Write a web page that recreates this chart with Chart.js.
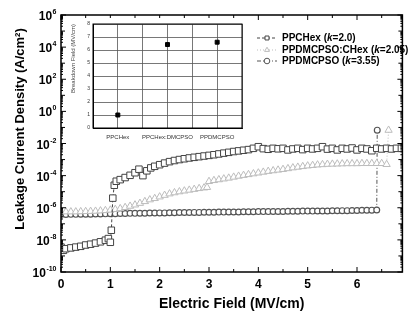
<!DOCTYPE html>
<html>
<head>
<meta charset="utf-8">
<script src="https://cdn.jsdelivr.net/npm/chart.js@4"></script>
<style>
  html, body { margin: 0; padding: 0; background: #fff; }
  #wrap { position: relative; width: 408px; height: 313px; overflow: hidden; }
  #main { position: absolute; left: 0; top: 0; }
  #inset { position: absolute; left: 66px; top: 18px; background: #fff; }
</style>
</head>
<body>
<div id="wrap">
  <canvas id="main" width="408" height="313"></canvas>
  <canvas id="inset" width="182" height="126"></canvas>
</div>
<script>
// ---- main chart data (field in MV/cm, current density stored as log10 A/cm2) ----
const ppchexField = [0, 0.05, 0.1, 0.2, 0.3, 0.4, 0.5, 0.6, 0.7, 0.8, 0.9, 0.96, 1.0, 1.02, 1.05, 1.08, 1.12, 1.2, 1.3, 1.4, 1.5, 1.58, 1.66, 1.74, 1.82, 1.9,
  2.0, 2.1, 2.2, 2.3, 2.4, 2.5, 2.6, 2.7, 2.8, 2.9, 3.0, 3.1, 3.2, 3.3, 3.4, 3.5, 3.6, 3.7, 3.8, 3.9,
  4.0, 4.1, 4.2, 4.3, 4.4, 4.5, 4.6, 4.7, 4.8, 4.9, 5.0, 5.1, 5.2, 5.3, 5.4, 5.5, 5.6, 5.7, 5.8, 5.9,
  6.0, 6.1, 6.2, 6.3, 6.4, 6.5, 6.6, 6.7, 6.8, 6.9];
const ppchexLog = [-8.45, -8.65, -8.55, -8.5, -8.45, -8.4, -8.32, -8.27, -8.2, -8.12, -8.02, -7.92, -8.15, -7.4, -5.4, -4.6, -4.35, -4.25, -4.12, -3.98, -3.82, -3.6, -4.0, -3.7, -3.52, -3.42,
  -3.32, -3.22, -3.13, -3.06, -3.0, -2.95, -2.9, -2.86, -2.82, -2.78, -2.74, -2.7, -2.65, -2.6, -2.55, -2.5, -2.46, -2.42, -2.38, -2.3,
  -2.2, -2.32, -2.36, -2.3, -2.33, -2.3, -2.4, -2.34, -2.3, -2.38, -2.3, -2.34, -2.3, -2.2, -2.35, -2.3, -2.4, -2.3, -2.34, -2.28,
  -2.4, -2.3, -2.34, -2.45, -2.3, -2.34, -2.3, -2.34, -2.3, -2.3];

const chexField = [0, 0.1, 0.2, 0.3, 0.4, 0.5, 0.6, 0.7, 0.8, 0.9, 1.0, 1.1, 1.2, 1.3, 1.4, 1.5, 1.6, 1.7, 1.8, 1.9,
  2.0, 2.1, 2.2, 2.3, 2.4, 2.5, 2.6, 2.7, 2.8, 2.9, 2.96, 3.0, 3.1, 3.2, 3.3, 3.4, 3.5, 3.6, 3.7, 3.8, 3.9,
  4.0, 4.1, 4.2, 4.3, 4.4, 4.5, 4.6, 4.7, 4.8, 4.9, 5.0, 5.1, 5.2, 5.3, 5.4, 5.5, 5.6, 5.7, 5.8, 5.9,
  6.0, 6.1, 6.2, 6.3, 6.4, 6.5, 6.6, 6.64];
const chexLog = [-6.25, -6.25, -6.25, -6.25, -6.24, -6.23, -6.22, -6.21, -6.19, -6.17, -6.14, -6.1, -6.05, -5.98, -5.9, -5.82, -5.72, -5.61, -5.5, -5.42,
  -5.32, -5.22, -5.13, -5.06, -5.0, -4.95, -4.9, -4.85, -4.8, -4.76, -4.73, -4.36, -4.3, -4.25, -4.2, -4.15, -4.09, -4.03, -3.98, -3.93, -3.88,
  -3.83, -3.78, -3.73, -3.69, -3.65, -3.61, -3.56, -3.51, -3.47, -3.43, -3.39, -3.36, -3.33, -3.31, -3.29, -3.28, -3.27, -3.26, -3.25, -3.25,
  -3.25, -3.24, -3.24, -3.24, -3.24, -3.24, -3.3, -1.17];

const dmcpsoField = [0, 0.1, 0.2, 0.3, 0.4, 0.5, 0.6, 0.7, 0.8, 0.9, 1.0, 1.1, 1.2, 1.3, 1.4, 1.5, 1.6, 1.7, 1.8, 1.9,
  2.0, 2.1, 2.2, 2.3, 2.4, 2.5, 2.6, 2.7, 2.8, 2.9, 3.0, 3.1, 3.2, 3.3, 3.4, 3.5, 3.6, 3.7, 3.8, 3.9,
  4.0, 4.1, 4.2, 4.3, 4.4, 4.5, 4.6, 4.7, 4.8, 4.9, 5.0, 5.1, 5.2, 5.3, 5.4, 5.5, 5.6, 5.7, 5.8, 5.9,
  6.0, 6.1, 6.2, 6.3, 6.4, 6.41];
const dmcpsoLog = [-6.42, -6.42, -6.41, -6.41, -6.4, -6.4, -6.4, -6.39, -6.39, -6.38, -6.37, -6.37, -6.36, -6.36, -6.35, -6.35, -6.34, -6.34, -6.33, -6.33,
  -6.32, -6.32, -6.31, -6.31, -6.3, -6.3, -6.3, -6.29, -6.29, -6.28, -6.28, -6.28, -6.27, -6.27, -6.26, -6.26, -6.26, -6.25, -6.25, -6.25,
  -6.24, -6.24, -6.24, -6.23, -6.23, -6.23, -6.22, -6.22, -6.22, -6.21, -6.21, -6.21, -6.2, -6.2, -6.2, -6.19, -6.19, -6.18, -6.18, -6.17,
  -6.17, -6.16, -6.16, -6.15, -6.14, -1.17];

const seriesNames = ['PPCHex', 'PPDMCPSO:CHex', 'PPDMCPSO'];
const seriesK = ['2.0', '2.05', '3.55'];
const yTickExponents = [6, 4, 2, 0, -2, -4, -6, -8, -10];
const xTickValues = [0, 1, 2, 3, 4, 5, 6];

// ---- inset data ----
const insetNames = ['PPCHex', 'PPCHex:DMCPSO', 'PPDMCPSO'];
const insetPos = [1, 2, 3];
const breakdownField = [1.0, 6.42, 6.6];

const FONT = '"Liberation Sans", Arial, sans-serif';

function toPoints(xs, logs) {
  return xs.map((x, i) => ({ x: x, y: Math.pow(10, logs[i]) }));
}

// frame, inward ticks, y labels, y title, legend
const decorPlugin = {
  id: 'decor',
  afterDraw(chart) {
    const ctx = chart.ctx;
    const a = chart.chartArea;
    const xs = chart.scales.x;
    const ys = chart.scales.y;
    ctx.save();
    ctx.strokeStyle = '#000';
    ctx.lineWidth = 1.5;
    ctx.strokeRect(a.left, a.top, a.right - a.left, a.bottom - a.top);

    ctx.lineWidth = 1;
    ctx.beginPath();
    // x ticks (major on integers, minor on halves)
    for (let v = 0; v <= 7; v += 0.5) {
      const px = xs.getPixelForValue(v);
      if (px > a.right) break;
      const len = Number.isInteger(v) ? 5 : 3;
      ctx.moveTo(px, a.bottom); ctx.lineTo(px, a.bottom - len);
      ctx.moveTo(px, a.top); ctx.lineTo(px, a.top + len);
    }
    // y ticks per decade plus minor log ticks
    for (let e = -10; e <= 6; e++) {
      const py = ys.getPixelForValue(Math.pow(10, e));
      const len = e % 2 === 0 ? 5 : 4;
      ctx.moveTo(a.left, py); ctx.lineTo(a.left + len, py);
      ctx.moveTo(a.right, py); ctx.lineTo(a.right - len, py);
      if (e < 6) {
        for (let m = 2; m <= 9; m++) {
          const pm = ys.getPixelForValue(m * Math.pow(10, e));
          ctx.moveTo(a.left, pm); ctx.lineTo(a.left + 2, pm);
          ctx.moveTo(a.right, pm); ctx.lineTo(a.right - 2, pm);
        }
      }
    }
    ctx.stroke();

    // y tick labels 10^n
    ctx.fillStyle = '#000';
    ctx.textBaseline = 'alphabetic';
    yTickExponents.forEach(e => {
      const py = ys.getPixelForValue(Math.pow(10, e));
      ctx.font = 'bold 12px ' + FONT;
      const wBase = ctx.measureText('10').width;
      ctx.font = 'bold 7px ' + FONT;
      const expText = String(e);
      const wExp = ctx.measureText(expText).width;
      const x0 = 56 - wBase - wExp;
      ctx.font = 'bold 12px ' + FONT;
      ctx.fillText('10', x0, py + 5);
      ctx.font = 'bold 7px ' + FONT;
      ctx.fillText(expText, x0 + wBase + 0.5, py - 1);
    });

    // y axis title
    ctx.save();
    ctx.translate(20, 129);
    ctx.rotate(-Math.PI / 2);
    ctx.font = 'bold 13px ' + FONT;
    ctx.textAlign = 'center';
    ctx.textBaseline = 'middle';
    ctx.fillText('Leakage Current Density (A/cm\u00B2)', 0, 0);
    ctx.restore();

    // legend
    const rows = [38, 50, 61];
    chart.data.datasets.forEach((ds, i) => {
      const y = rows[i];
      ctx.save();
      ctx.strokeStyle = ds.borderColor;
      ctx.lineWidth = 1;
      ctx.setLineDash(ds.borderDash || []);
      ctx.beginPath();
      ctx.moveTo(257, y); ctx.lineTo(277, y);
      ctx.stroke();
      ctx.setLineDash([]);
      ctx.fillStyle = '#fff';
      ctx.strokeStyle = ds.pointBorderColor;
      ctx.lineWidth = 1;
      Chart.helpers.drawPoint(ctx, { pointStyle: ds.pointStyle, radius: 2.8, borderWidth: 1, rotation: 0 }, 267, y);
      ctx.restore();

      let x = 282;
      ctx.fillStyle = '#000';
      ctx.textBaseline = 'middle';
      const parts = [
        [seriesNames[i] + ' (', 'bold 10px '],
        ['k', 'italic bold 10px '],
        ['=' + seriesK[i] + ')', 'bold 10px ']
      ];
      parts.forEach(p => {
        ctx.font = p[1] + FONT;
        ctx.fillText(p[0], x, y);
        x += ctx.measureText(p[0]).width;
      });
    });
    ctx.restore();
  }
};

new Chart(document.getElementById('main').getContext('2d'), {
  type: 'scatter',
  data: {
    datasets: [
      {
        label: seriesNames[0],
        data: toPoints(ppchexField, ppchexLog),
        showLine: true,
        borderColor: '#444',
        borderWidth: 1,
        borderDash: [3, 2],
        pointStyle: 'rect',
        pointRadius: 4.6,
        pointBorderWidth: 1,
        pointBorderColor: '#444',
        pointBackgroundColor: '#fff'
      },
      {
        label: seriesNames[1],
        data: toPoints(chexField, chexLog),
        showLine: true,
        borderColor: '#bdbdbd',
        borderWidth: 1,
        borderDash: [1, 2],
        pointStyle: 'triangle',
        pointRadius: 4.2,
        pointBorderWidth: 1,
        pointBorderColor: '#bcbcbc',
        pointBackgroundColor: '#fff'
      },
      {
        label: seriesNames[2],
        data: toPoints(dmcpsoField, dmcpsoLog),
        showLine: true,
        borderColor: '#555',
        borderWidth: 1,
        borderDash: [4, 2, 1, 2],
        pointStyle: 'circle',
        pointRadius: 2.9,
        pointBorderWidth: 1.2,
        pointBorderColor: '#555',
        pointBackgroundColor: '#fff'
      }
    ]
  },
  options: {
    responsive: false,
    animation: false,
    devicePixelRatio: 1,
    layout: { padding: { top: 15, right: 2, left: 0, bottom: 0 } },
    plugins: { legend: { display: false }, tooltip: { enabled: false } },
    scales: {
      x: {
        type: 'linear',
        min: 0,
        max: 6.92,
        afterFit(scale) { scale.height = 41; },
        afterBuildTicks(scale) {
          scale.ticks = xTickValues.map(v => ({ value: v }));
        },
        grid: { display: false, drawTicks: false },
        border: { display: false },
        ticks: {
          padding: 5,
          color: '#000',
          font: { family: FONT, size: 12, weight: 'bold' },
          maxRotation: 0
        },
        title: {
          display: true,
          text: 'Electric Field (MV/cm)',
          color: '#000',
          font: { family: FONT, size: 14, weight: 'bold' },
          padding: { top: 0, bottom: 0 }
        }
      },
      y: {
        type: 'logarithmic',
        min: 1e-10,
        max: 1e6,
        afterFit(scale) { scale.width = 61; },
        grid: { display: false, drawTicks: false },
        border: { display: false },
        ticks: { display: false }
      }
    }
  },
  plugins: [decorPlugin]
});

// ---- inset chart ----
new Chart(document.getElementById('inset').getContext('2d'), {
  type: 'scatter',
  data: {
    datasets: [{
      data: insetPos.map((p, i) => ({ x: p, y: breakdownField[i] })),
      pointStyle: 'rect',
      pointRadius: 2.8,
      pointBackgroundColor: '#000',
      pointBorderColor: '#000'
    }]
  },
  options: {
    responsive: false,
    animation: false,
    devicePixelRatio: 1,
    layout: { padding: { top: 4, right: 4, left: 0, bottom: 0 } },
    plugins: { legend: { display: false }, tooltip: { enabled: false } },
    scales: {
      x: {
        type: 'linear',
        min: 0.5,
        max: 3.5,
        afterFit(scale) { scale.height = 16; },
        grid: { color: '#555', lineWidth: 0.8, drawTicks: false },
        border: { color: '#000', width: 1 },
        ticks: {
          stepSize: 0.5,
          padding: 6,
          autoSkip: false,
          maxRotation: 0,
          color: '#333',
          font: { family: FONT, size: 6 },
          callback: v => Number.isInteger(v) ? insetNames[v - 1] : ''
        }
      },
      y: {
        min: 0,
        max: 8,
        afterFit(scale) { scale.width = 27; },
        grid: { color: '#555', lineWidth: 0.8, drawTicks: false },
        border: { color: '#000', width: 1 },
        ticks: {
          stepSize: 1,
          padding: 3,
          color: '#333',
          font: { family: FONT, size: 5 }
        },
        title: {
          display: true,
          text: 'Breakdown Field (MV/cm)',
          align: 'end',
          color: '#444',
          font: { family: FONT, size: 6 },
          padding: { top: 4, bottom: 0 }
        }
      }
    }
  },
  plugins: [{
    id: 'insetFrame',
    afterDraw(chart) {
      const a = chart.chartArea;
      const ctx = chart.ctx;
      ctx.save();
      ctx.strokeStyle = '#000';
      ctx.lineWidth = 1;
      ctx.strokeRect(a.left, a.top, a.right - a.left, a.bottom - a.top);
      ctx.restore();
    }
  }]
});
</script>
</body>
</html>
